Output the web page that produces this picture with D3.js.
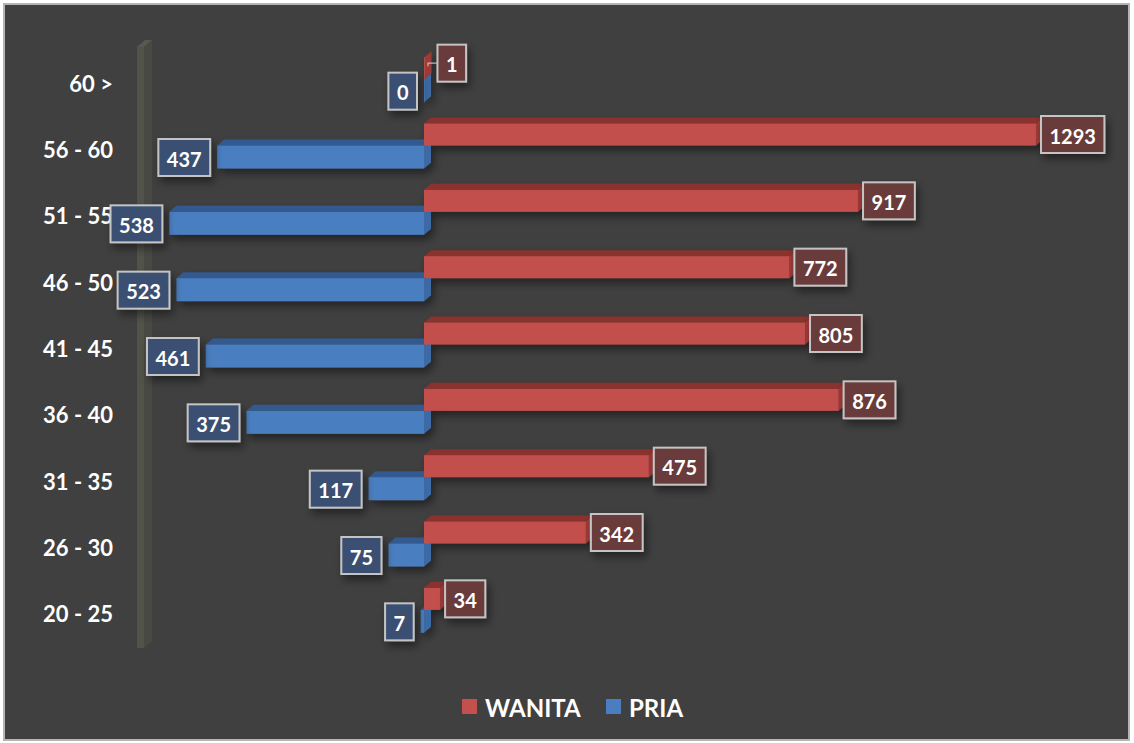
<!DOCTYPE html>
<html>
<head>
<meta charset="utf-8">
<script src="https://cdn.jsdelivr.net/npm/d3@7"></script>
<style>
  html, body { margin: 0; padding: 0; background: #ffffff; }
  svg { display: block; }
</style>
</head>
<body>
<svg id="chart" width="1134" height="743"></svg>
<script>
// ---- data ----
const categories = ["60 >", "56 - 60", "51 - 55", "46 - 50", "41 - 45", "36 - 40", "31 - 35", "26 - 30", "20 - 25"];
const wanita = [1, 1293, 917, 772, 805, 876, 475, 342, 34];
const pria   = [0, 437, 538, 523, 461, 375, 117, 75, 7];
const seriesNames = ["WANITA", "PRIA"];

// ---- styles ----
const FONT = "Lato, 'Open Sans', sans-serif";
const red = { front: "#c3504d", top: "#8a302e", side: "#9d3a37", box: "#6b3b3b" };
const blue = { front: "#4a7ec0", top: "#325a90", side: "#3d6aa4", box: "#3b5072" };
const DX = 7, DY = -6;

const svg = d3.select("#chart");

// background
svg.append("rect").attr("x", 4).attr("y", 4).attr("width", 1125).attr("height", 736)
  .attr("fill", "#404040").attr("stroke", "#b5b5b5").attr("stroke-width", 2);

const defs = svg.append("defs");
const f = defs.append("filter").attr("id", "shadow").attr("x", "-30%").attr("y", "-30%").attr("width", "170%").attr("height", "180%");
f.append("feDropShadow").attr("dx", 3).attr("dy", 5).attr("stdDeviation", 4).attr("flood-color", "#000").attr("flood-opacity", 0.45);

// scales
const y = d3.scaleBand().domain(categories).range([50, 647]);
const x = d3.scaleLinear().domain([0, 1293]).range([424, 1036]);

// wall (3D axis)
const wall = svg.append("g");
wall.append("polygon").attr("points", "144,47 152,40 152,641 144,648").attr("fill", "#494944");
wall.append("rect").attr("x", 137).attr("y", 47).attr("width", 7).attr("height", 601).attr("fill", "#52524b");
wall.append("polygon").attr("points", "137,47 144,47 152,40 145,40").attr("fill", "#585851");

// category labels
svg.append("g").selectAll("text").data(categories).join("text")
  .attr("x", 113)
  .attr("y", d => y(d) + y.bandwidth() / 2)
  .attr("text-anchor", "end")
  .attr("dominant-baseline", "central")
  .attr("fill", "#ffffff")
  .attr("font-family", FONT)
  .attr("font-weight", "bold")
  .attr("font-size", 22)
  .attr("xml:space", "preserve")
  .text(d => d);

function bar3d(g, x0, x1, y0, y1, c) {
  const gg = g.append("g");
  gg.append("polygon")
    .attr("points", [[x0, y0], [x1, y0], [x1 + DX, y0 + DY], [x0 + DX, y0 + DY]].map(p => p.join(",")).join(" "))
    .attr("fill", c.top);
  gg.append("polygon")
    .attr("points", [[x1, y0], [x1 + DX, y0 + DY], [x1 + DX, y1 + DY], [x1, y1]].map(p => p.join(",")).join(" "))
    .attr("fill", c.side);
  gg.append("rect").attr("x", x0).attr("y", y0).attr("width", Math.max(0.8, x1 - x0)).attr("height", y1 - y0)
    .attr("fill", c.front);
}

const bars = svg.append("g").attr("filter", "url(#shadow)");
const rowBoundary = d => y(d) + y.bandwidth() / 2 - 4;

// PRIA bars (left)
categories.forEach((cat, i) => {
  const b = rowBoundary(cat);
  bar3d(bars, x(-pria[i]), x(0), b, b + 23, blue);
});
// WANITA bars (right)
categories.forEach((cat, i) => {
  const b = rowBoundary(cat);
  bar3d(bars, x(0), x(wanita[i]), b - 22, b, red);
});

// data labels
const labels = svg.append("g");
function labelBox(text, cx, cy, anchor, c) {
  const g = labels.append("g");
  const t = g.append("text")
    .attr("font-family", FONT).attr("font-weight", "bold").attr("font-size", 20)
    .attr("fill", "#ffffff").attr("dominant-baseline", "central").attr("text-anchor", "middle")
    .text(text);
  const w = t.node().getComputedTextLength() + 17;
  const h = 37;
  const left = anchor === "start" ? cx : cx - w;
  g.insert("rect", "text").attr("x", left).attr("y", cy - h / 2).attr("width", w).attr("height", h)
    .attr("fill", c.box).attr("stroke", "#c4c4c4").attr("stroke-width", 2).attr("filter", "url(#shadow)");
  t.attr("x", left + w / 2).attr("y", cy + 1);
}

categories.forEach((cat, i) => {
  const b = rowBoundary(cat);
  let lx = x(wanita[i]) + 5, ly = b - 11;
  if (i === 0) {
    // label moved aside by the chart with a leader line
    lx += 8; ly -= 5;
    labels.append("polyline").attr("points", `${x(0) + 4},${ly + 3} ${x(0) + 4},${ly} ${lx},${ly}`)
      .attr("fill", "none").attr("stroke", "#bfbfbf").attr("stroke-width", 1.2);
  }
  labelBox(String(wanita[i]), lx, ly, "start", red);
  labelBox(String(pria[i]), x(-pria[i]) - 7, b + 12, "end", blue);
});

// legend
const legend = svg.append("g");
const legendColors = [red.front, blue.front];
const legendX = [462, 606];
seriesNames.forEach((name, i) => {
  legend.append("rect").attr("x", legendX[i]).attr("y", 699).attr("width", 15).attr("height", 15).attr("fill", legendColors[i]);
  legend.append("text").attr("x", legendX[i] + 23).attr("y", 707)
    .attr("dominant-baseline", "central")
    .attr("fill", "#ffffff").attr("font-family", FONT).attr("font-weight", "bold").attr("font-size", 24)
    .text(name);
});
</script>
</body>
</html>
